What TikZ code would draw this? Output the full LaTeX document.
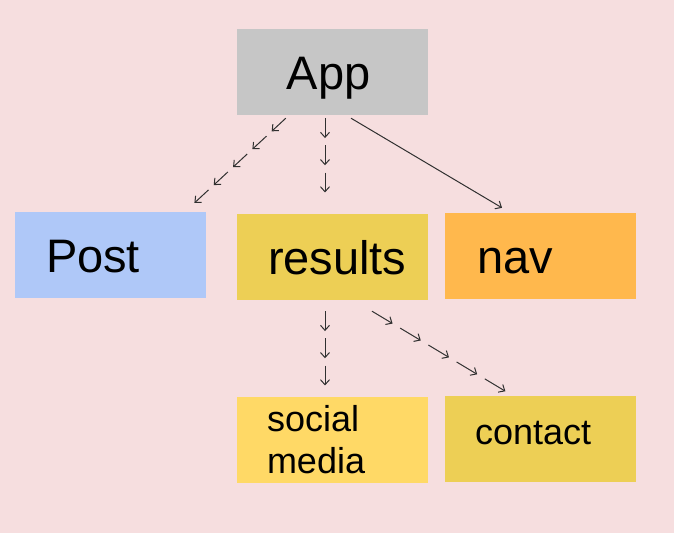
\documentclass[tikz,border=0pt]{standalone}
\usepackage{fontspec}
\setmainfont{Liberation Sans}
\usetikzlibrary{calc,arrows.meta}

\definecolor{bgpink}{HTML}{F6DEDF}
\definecolor{appgray}{HTML}{C6C6C6}
\definecolor{postblue}{HTML}{AFC8F8}
\definecolor{resyellow}{HTML}{EDCF55}
\definecolor{navorange}{HTML}{FFB84D}
\definecolor{sociallight}{HTML}{FFD966}
\definecolor{linkgray}{HTML}{303030}

\tikzset{
  card/.style={rectangle, inner ysep=0pt, minimum width=191pt, minimum height=86pt},
  leftcard/.style={inner xsep=31pt, text width=129pt, align=left},
  bigcard/.style={card, font=\fontsize{47}{50}\selectfont, text height=34pt, text depth=0pt},
  smallcard/.style={card, leftcard, font=\fontsize{36}{42}\selectfont},
  link/.style={draw=linkgray, line width=1pt, -{Straight Barb[length=5pt,width=9pt]}},
}

% chain of short arrows between two points
\newcommand{\arrowchain}[3]{%
  \foreach \k in {1,...,#3}{
    \pgfmathsetmacro{\ta}{(\k-1)/#3}
    \pgfmathsetmacro{\tb}{(\k-0.27)/#3}
    \draw[link] ($(#1)!\ta!(#2)$) -- ($(#1)!\tb!(#2)$);
  }%
}

\begin{document}
\begin{tikzpicture}[x=1pt,y=1pt,yscale=-1,xscale=1]
	\fill[bgpink] (0,0) rectangle (674,533);
	\useasboundingbox (0,0) rectangle (674,533);

	% Text Node
	\node (app) [bigcard, inner xsep=0pt, fill=appgray] at (332.5,72) {\hspace*{-8pt}App};
	% Text Node
	\node (post) [bigcard, leftcard, fill=postblue] at (110.5,255) {Post};
	% Text Node
	\node (results) [bigcard, leftcard, fill=resyellow] at (332.5,257) {results};
	% Text Node
	\node (nav) [bigcard, leftcard, inner xsep=32pt, text width=127pt, fill=navorange] at (540.5,256) {nav};
	% Text Node
	\node (social) [smallcard, inner xsep=30pt, text width=131pt, fill=sociallight] at (332.5,440) {social\\media};
	% Text Node
	\node (contact) [smallcard, inner xsep=30pt, text width=131pt, fill=resyellow, text height=10pt, text depth=0pt] at (540.5,439) {contact};

	% Connection
	\coordinate (appL) at ($(app.south west)+(49,3)$);
	\coordinate (postT) at ($(post.north east)+(-17,-4)$);
	\arrowchain{appL}{postT}{5}
	% Connection
	\coordinate (appM) at ($(app.south)+(-7.5,3)$);
	\coordinate (resT) at ($(results.north)+(-7.5,-14)$);
	\arrowchain{appM}{resT}{3}
	% Connection
	\draw[link] ($(app.south)+(18.5,3)$) -- ($(nav.north)+(-38.5,-5)$);
	% Connection
	\coordinate (resM) at ($(results.south)+(-7.5,11)$);
	\coordinate (socT) at ($(social.north)+(-7.5,-4)$);
	\arrowchain{resM}{socT}{3}
	% Connection
	\coordinate (resR) at ($(results.south)+(39.5,11)$);
	\coordinate (conT) at ($(contact.north)+(-27.5,0)$);
	\arrowchain{resR}{conT}{5}

\end{tikzpicture}
\end{document}
